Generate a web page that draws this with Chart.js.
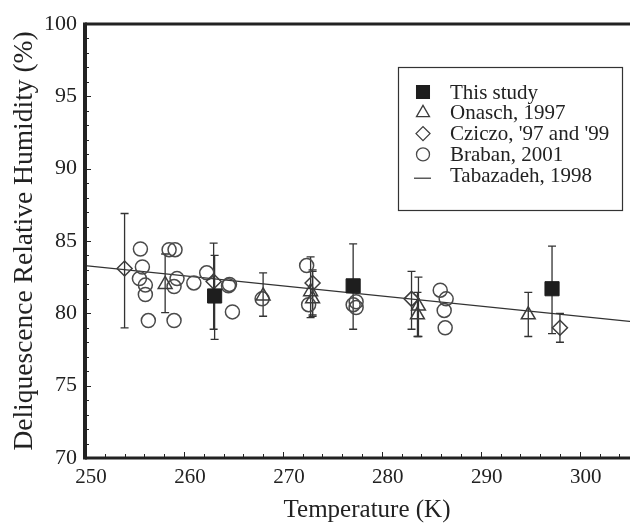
<!DOCTYPE html>
<html>
<head>
<meta charset="utf-8">
<script src="https://cdn.jsdelivr.net/npm/chart.js@4.4.0/dist/chart.umd.min.js"></script>
<style>
  html, body { margin:0; padding:0; background:#fff; overflow:hidden; }
  #wrap { width:630px; height:525px; overflow:hidden; }
</style>
</head>
<body>
<div id="wrap"><canvas id="myChart" width="660" height="525"></canvas></div>
<script>
// This study (filled squares)
var studyT  = [263.1, 277.1, 297.2];
var studyRH = [81.2, 81.9, 81.7];
var studyLo = [78.2, 78.9, 78.6];
var studyHi = [84.0, 84.8, 84.65];

// Onasch, 1997 (triangles)
var onaschT  = [258.1, 268.0, 272.8, 273.0, 283.7, 283.6, 294.8];
var onaschRH = [82.0, 81.2, 81.5, 81.0, 80.5, 79.9, 79.9];
var onaschLo = [80.05, 79.8, 79.7, 79.8, 78.4, 78.4, 78.4];
var onaschHi = [84.1, 82.8, 83.9, 82.9, 82.5, 81.45, 81.45];

// Cziczo, '97 and '99 (diamonds)
var cziczoT  = [254.0, 263.0, 273.0, 283.0, 298.0];
var cziczoRH = [83.1, 82.2, 82.1, 81.0, 79.0];
var cziczoLo = [79.0, 78.9, 79.9, 78.9, 78.0];
var cziczoHi = [86.9, 84.85, 83.0, 82.9, 80.0];

// Braban, 2001 (open circles, no error bars)
var brabanT  = [255.6, 255.8, 255.5, 256.1, 256.1, 256.4, 258.5, 259.1, 259.3, 259.0, 259.0,
                261.0, 262.3, 264.6, 264.5, 264.9, 267.9, 272.4, 272.6, 277.4, 277.4, 277.1,
                285.9, 286.5, 286.3, 286.4];
var brabanRH = [84.45, 83.2, 82.4, 81.95, 81.3, 79.5, 84.4, 84.4, 82.4, 81.85, 79.5,
                82.1, 82.8, 82.0, 81.9, 80.1, 81.0, 83.3, 80.6, 80.8, 80.4, 80.6,
                81.6, 81.0, 80.2, 79.0];

// Tabazadeh, 1998 (line)
var tabT  = [250, 307];
var tabRH = [83.3, 79.3];

var serif = '"Liberation Serif", "Times New Roman", serif';

function pts(xs, ys){ return xs.map(function(x, i){ return {x: x, y: ys[i]}; }); }

// vertical error bars with caps
var errorBars = {
  id: 'errorBars',
  beforeDatasetsDraw: function(chart){
    var ctx = chart.ctx, xs = chart.scales.x, ys = chart.scales.y;
    ctx.save();
    ctx.strokeStyle = '#333';
    ctx.lineWidth = 1.3;
    chart.data.datasets.forEach(function(ds){
      if (!ds.errLo) return;
      ds.data.forEach(function(p, i){
        var px = xs.getPixelForValue(p.x);
        var y1 = ys.getPixelForValue(ds.errLo[i]), y2 = ys.getPixelForValue(ds.errHi[i]);
        ctx.beginPath();
        ctx.moveTo(px, y1); ctx.lineTo(px, y2);
        ctx.moveTo(px - 4, y1); ctx.lineTo(px + 4, y1);
        ctx.moveTo(px - 4, y2); ctx.lineTo(px + 4, y2);
        ctx.stroke();
      });
    });
    ctx.restore();
  }
};

// frame with inward ticks
var frame = {
  id: 'frame',
  afterDraw: function(chart){
    var ctx = chart.ctx, a = chart.chartArea, xs = chart.scales.x, ys = chart.scales.y;
    ctx.save();
    ctx.strokeStyle = '#222';
    ctx.lineWidth = 1;
    for (var v = xs.min + 2; v < xs.max; v += 2) {
      var px = Math.round(xs.getPixelForValue(v)) + 0.5;
      var len = (v % 10 === 0) ? 6 : 4;
      ctx.beginPath(); ctx.moveTo(px, a.bottom); ctx.lineTo(px, a.bottom - len); ctx.stroke();
    }
    for (var w = ys.min + 1; w < ys.max; w += 1) {
      var py = Math.round(ys.getPixelForValue(w)) + 0.5;
      var l2 = (w % 5 === 0) ? 6 : 4;
      ctx.beginPath(); ctx.moveTo(a.left, py); ctx.lineTo(a.left + l2, py); ctx.stroke();
    }
    ctx.lineWidth = 3;
    ctx.beginPath();
    ctx.moveTo(a.left, a.top); ctx.lineTo(a.right, a.top);
    ctx.moveTo(a.left, a.bottom); ctx.lineTo(a.right, a.bottom);
    ctx.stroke();
    ctx.lineWidth = 4;
    ctx.beginPath();
    ctx.moveTo(a.left, a.top - 1.5); ctx.lineTo(a.left, a.bottom + 1.5);
    ctx.stroke();
    ctx.restore();
  }
};

// boxed legend inside the plot
var boxLegend = {
  id: 'boxLegend',
  afterDraw: function(chart){
    var ctx = chart.ctx;
    var bx = 398, by = 67, bw = 224, bh = 143;
    ctx.save();
    ctx.fillStyle = '#fff';
    ctx.fillRect(bx, by, bw, bh);
    ctx.strokeStyle = '#333';
    ctx.lineWidth = 1.2;
    ctx.strokeRect(bx + 0.5, by + 0.5, bw, bh);
    ctx.font = '21px ' + serif;
    ctx.textBaseline = 'middle';
    chart.data.datasets.forEach(function(ds, i){
      var y = 92 + i * 20.8, x = 423;
      ctx.strokeStyle = '#333';
      if (ds.showLine) {
        ctx.lineWidth = 1.2;
        ctx.beginPath(); ctx.moveTo(x - 9, y + 3); ctx.lineTo(x + 8, y + 3); ctx.stroke();
      } else {
        ctx.fillStyle = ds.backgroundColor;
        ctx.strokeStyle = ds.borderColor;
        ctx.lineWidth = 1.3;
        Chart.helpers.drawPoint(ctx, {pointStyle: ds.pointStyle, radius: ds.legendRadius, rotation: 0, borderWidth: 1.3}, x, y);
      }
      ctx.fillStyle = '#222';
      ctx.fillText(ds.label, 450, y + 1);
    });
    ctx.restore();
  }
};

var ctx = document.getElementById('myChart').getContext('2d');
var myChart = new Chart(ctx, {
  type: 'scatter',
  data: {
    datasets: [
      { label: 'This study', data: pts(studyT, studyRH), errLo: studyLo, errHi: studyHi,
        pointStyle: 'rect', pointRadius: 10, legendRadius: 9,
        backgroundColor: '#1e1e1e', borderColor: '#1e1e1e', borderWidth: 1 },
      { label: 'Onasch, 1997', data: pts(onaschT, onaschRH), errLo: onaschLo, errHi: onaschHi,
        pointStyle: 'triangle', pointRadius: 8, legendRadius: 7.5,
        backgroundColor: 'rgba(0,0,0,0)', borderColor: '#3c3c3c', borderWidth: 1.5 },
      { label: "Cziczo, '97 and '99", data: pts(cziczoT, cziczoRH), errLo: cziczoLo, errHi: cziczoHi,
        pointStyle: 'rectRot', pointRadius: 7.5, legendRadius: 7,
        backgroundColor: 'rgba(0,0,0,0)', borderColor: '#3c3c3c', borderWidth: 1.5 },
      { label: 'Braban, 2001', data: pts(brabanT, brabanRH),
        pointStyle: 'circle', pointRadius: 7, legendRadius: 6.5,
        backgroundColor: 'rgba(0,0,0,0)', borderColor: '#4a4a4a', borderWidth: 1.5 },
      { label: 'Tabazadeh, 1998', data: pts(tabT, tabRH), type: 'line', showLine: true,
        pointRadius: 0, borderColor: '#333', borderWidth: 1.2, fill: false }
    ]
  },
  options: {
    responsive: false,
    animation: false,
    events: [],
    layout: { padding: { top: 24, right: 3, left: 0, bottom: 0 } },
    plugins: { legend: { display: false }, tooltip: { enabled: false } },
    scales: {
      x: {
        type: 'linear', min: 250, max: 307,
        grid: { display: false, drawTicks: false },
        border: { display: false },
        ticks: { stepSize: 10, includeBounds: false, padding: 7, labelOffset: 6,
                 color: '#222', font: { family: serif, size: 21 }, maxRotation: 0 },
        title: { display: true, text: 'Temperature (K)', color: '#222',
                 font: { family: serif, size: 25 }, padding: { top: 0, bottom: 0 } },
        afterFit: function(s){ s.height = 67; }
      },
      y: {
        type: 'linear', min: 70, max: 100,
        grid: { display: false, drawTicks: false },
        border: { display: false },
        ticks: { stepSize: 5, padding: 8, color: '#222', font: { family: serif, size: 22 } },
        title: { display: true, text: 'Deliquescence Relative Humidity (%)', color: '#222',
                 font: { family: serif, size: 27.5 }, padding: { top: 8, bottom: 0 } },
        afterFit: function(s){ s.width = 85; }
      }
    }
  },
  plugins: [errorBars, frame, boxLegend]
});
</script>
</body>
</html>
